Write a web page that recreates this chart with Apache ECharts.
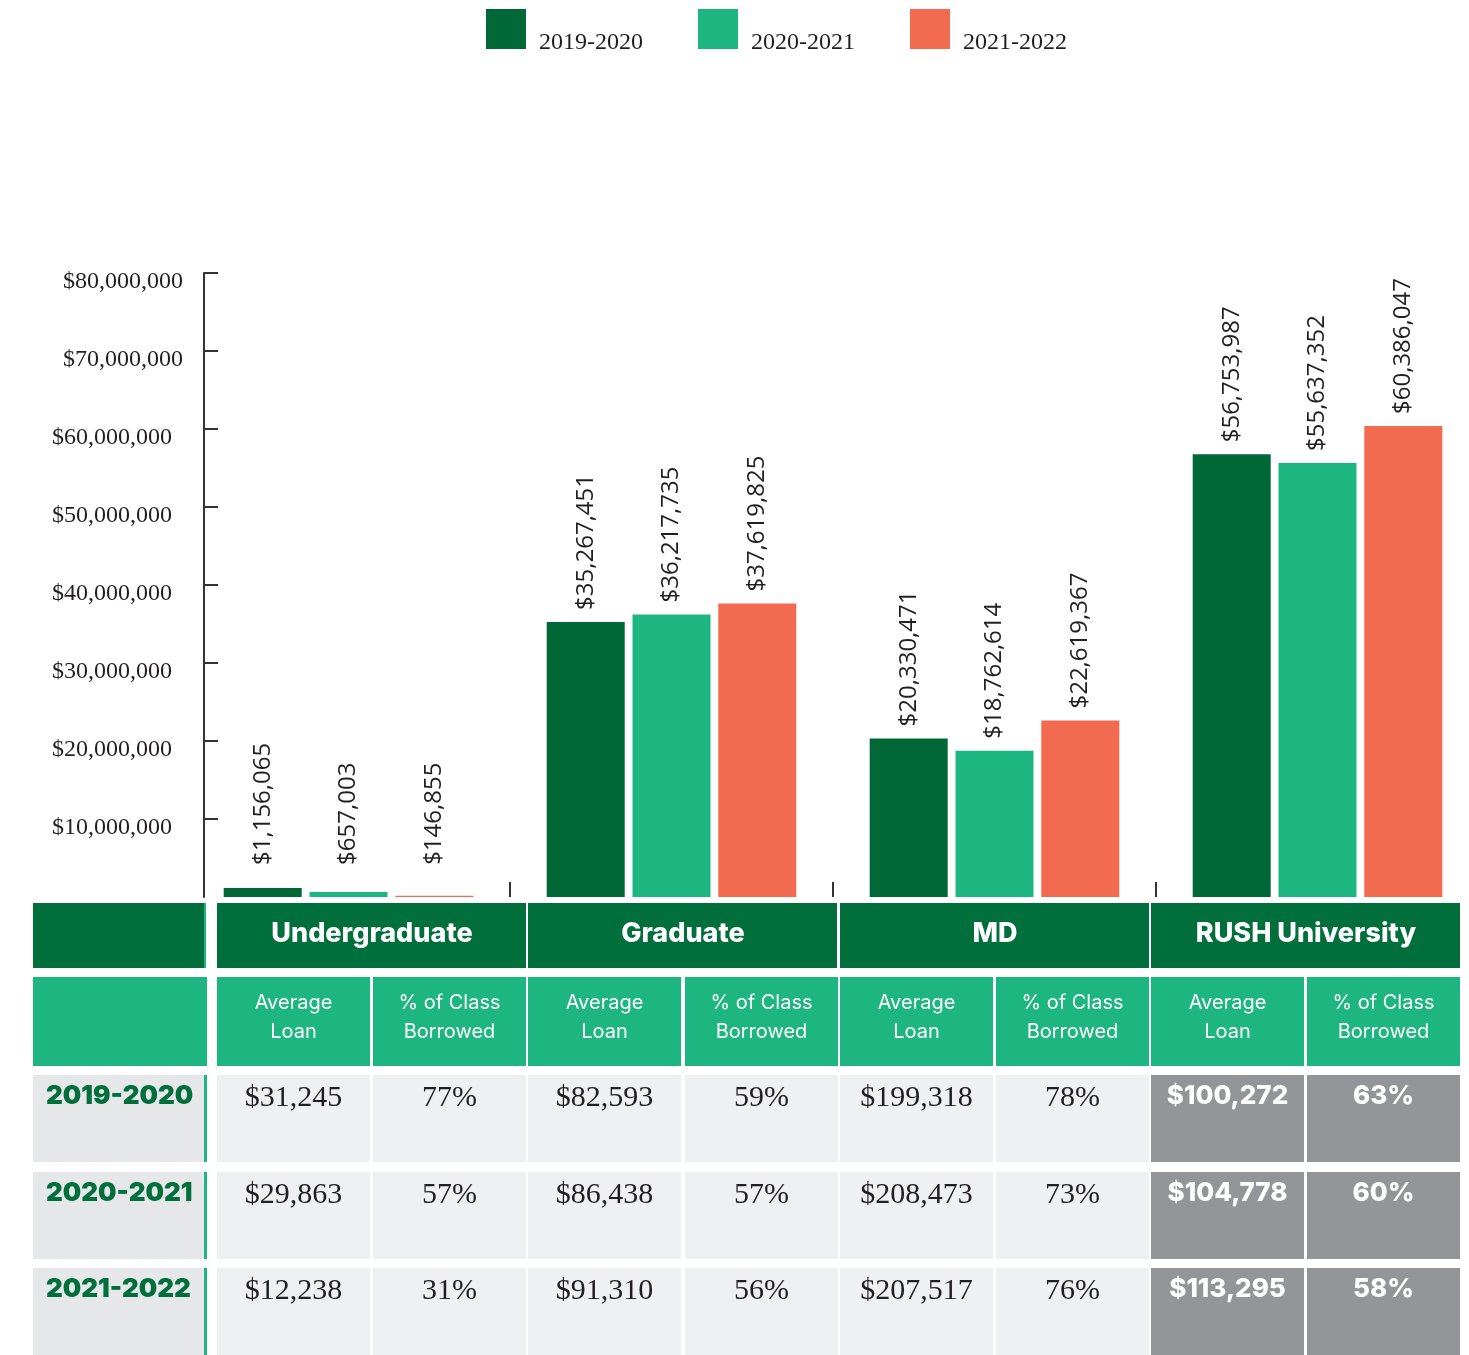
<!DOCTYPE html>
<html>
<head>
<meta charset="utf-8">
<script src="https://cdn.jsdelivr.net/npm/echarts@6/dist/echarts.min.js"></script>
<style>
  html, body { margin: 0; padding: 0; background: #fff; overflow: hidden; }
  #chart { width: 1500px; height: 1355px; }
</style>
</head>
<body>
<div id="chart"></div>
<script>
// 图表数据
const years = ['2019-2020', '2020-2021', '2021-2022']
const categories = ['Undergraduate', 'Graduate', 'MD', 'RUSH University']
const total2019 = [1156065, 35267451, 20330471, 56753987]
const total2020 = [657003, 36217735, 18762614, 55637352]
const total2021 = [146855, 37619825, 22619367, 60386047]
const yMin = 0
const yMax = 80000000
const yStep = 10000000
const yTicks = [10000000, 20000000, 30000000, 40000000, 50000000, 60000000, 70000000, 80000000]

// 表格数据
const subHeads = ['Average\nLoan', '% of Class\nBorrowed']
const loanUG = [31245, 29863, 12238]
const pctUG = [77, 57, 31]
const loanGrad = [82593, 86438, 91310]
const pctGrad = [59, 57, 56]
const loanMD = [199318, 208473, 207517]
const pctMD = [78, 73, 76]
const loanRush = [100272, 104778, 113295]
const pctRush = [63, 60, 58]

const colorList = ['#006837', '#1db580', '#f26a4f']
const darkGreen = '#006f3c'
const serif = '"Liberation Serif", serif'
const sans = 'Inter, "Noto Sans", sans-serif'

function money(v) {
  return '$' + v.toLocaleString('en-US')
}

// 柱子数据，小柱子标签抬高一点
function barData(arr, lowDist) {
  return arr.map((v, i) => i === 0 ? { value: v, label: { distance: lowDist } } : v)
}

// 表格
let graphic = []
const colX = [217, 373, 528, 685, 840, 996, 1151, 1307]
const subW = 153
const rowY = [1075, 1172, 1268]
const rowH = [87, 87, 87]

// 左侧列
graphic.push({ type: 'rect', shape: { x: 33, y: 903, width: 171, height: 65 }, style: { fill: darkGreen } })
graphic.push({ type: 'rect', shape: { x: 204, y: 903, width: 2, height: 65 }, style: { fill: '#1db580' } })
graphic.push({ type: 'rect', shape: { x: 33, y: 977, width: 174, height: 89 }, style: { fill: '#1db580' } })
years.map((yr, r) => {
  graphic.push({ type: 'rect', shape: { x: 33, y: rowY[r], width: 171, height: rowH[r] }, style: { fill: '#e6e7e8' } })
  graphic.push({ type: 'rect', shape: { x: 204, y: rowY[r], width: 3, height: rowH[r] }, style: { fill: '#1db580' } })
  graphic.push({
    type: 'text', x: 46, y: rowY[r] + 21,
    style: { text: yr, fill: darkGreen, fontSize: 26, fontWeight: 900, fontFamily: sans, align: 'left', verticalAlign: 'middle' }
  })
})

// 分组表头
categories.map((name, g) => {
  const x = colX[g * 2]
  graphic.push({ type: 'rect', shape: { x: x, y: 903, width: 309, height: 65 }, style: { fill: darkGreen } })
  graphic.push({
    type: 'text', x: x + 155, y: 934,
    style: { text: name, fill: '#fff', fontSize: 27, fontWeight: 800, fontFamily: sans, align: 'center', verticalAlign: 'middle' }
  })
})

// 子表头与数据
const cols = [loanUG, pctUG, loanGrad, pctGrad, loanMD, pctMD, loanRush, pctRush]
cols.map((col, c) => {
  const x = colX[c]
  const isRush = c >= 6
  graphic.push({ type: 'rect', shape: { x: x, y: 977, width: subW, height: 89 }, style: { fill: '#1db580' } })
  graphic.push({
    type: 'text', x: x + subW / 2, y: 1017,
    style: { text: subHeads[c % 2], fill: '#fff', fontSize: 20, fontFamily: sans, lineHeight: 29, align: 'center', verticalAlign: 'middle' }
  })
  col.map((v, r) => {
    const txt = c % 2 === 0 ? money(v) : v + '%'
    graphic.push({ type: 'rect', shape: { x: x, y: rowY[r], width: subW, height: rowH[r] }, style: { fill: isRush ? '#939598' : '#eff0f2' } })
    graphic.push({
      type: 'text', x: x + subW / 2, y: rowY[r] + (isRush ? 21 : 23),
      style: isRush
        ? { text: txt, fill: '#fff', fontSize: 26, fontWeight: 800, fontFamily: sans, align: 'center', verticalAlign: 'middle' }
        : { text: txt, fill: '#231f20', fontSize: 30, fontFamily: serif, align: 'center', verticalAlign: 'middle' }
    })
  })
})

const barLabel = {
  show: true,
  position: 'top',
  rotate: 90,
  align: 'left',
  verticalAlign: 'middle',
  distance: 12,
  fontFamily: '"Open Sans", sans-serif',
  fontSize: 24,
  color: '#231f20',
  formatter: p => money(p.value)
}

const myChart = echarts.init(document.getElementById('chart'))
myChart.setOption({
  animation: false,
  backgroundColor: '#fff',
  color: colorList,
  legend: {
    left: 486,
    top: 9,
    padding: 0,
    itemWidth: 40,
    itemHeight: 40,
    itemGap: 55,
    icon: 'rect',
    formatter: name => '{a|' + name + '}',
    textStyle: {
      rich: {
        a: { fontFamily: serif, fontSize: 24, color: '#231f20', lineHeight: 52, verticalAlign: 'bottom', padding: [0, 0, 0, 8] }
      }
    }
  },
  grid: { left: 187, top: 273, width: 1292, height: 624 },
  xAxis: {
    type: 'category',
    data: categories,
    axisLine: { show: false },
    axisLabel: { show: false },
    axisTick: { show: true, inside: true, length: 15, interval: (i) => i > 0, lineStyle: { color: '#333', width: 2 } }
  },
  yAxis: {
    type: 'value',
    min: yMin,
    max: yMax,
    interval: yStep,
    offset: -17,
    splitLine: { show: false },
    axisLine: { show: true, lineStyle: { color: '#333', width: 2 } },
    axisTick: { show: true, inside: true, length: 14, customValues: yTicks, lineStyle: { color: '#333', width: 2 } },
    axisLabel: {
      margin: 21,
      customValues: yTicks,
      formatter: v => v >= 70000000 ? '{n|' + money(v) + '}' : '{m|' + money(v) + '}',
      rich: {
        m: { fontFamily: serif, fontSize: 24, color: '#231f20', padding: [18, 11, 0, 0] },
        n: { fontFamily: serif, fontSize: 24, color: '#231f20', padding: [18, 0, 0, 0] }
      }
    }
  },
  series: [
    { name: years[0], type: 'bar', barWidth: 78, barGap: '10%', data: barData(total2019, 23), label: barLabel },
    { name: years[1], type: 'bar', barWidth: 78, barGap: '10%', data: barData(total2020, 27), label: barLabel },
    { name: years[2], type: 'bar', barWidth: 78, barGap: '10%', data: barData(total2021, 31), label: barLabel }
  ],
  graphic: graphic
})
</script>
</body>
</html>
